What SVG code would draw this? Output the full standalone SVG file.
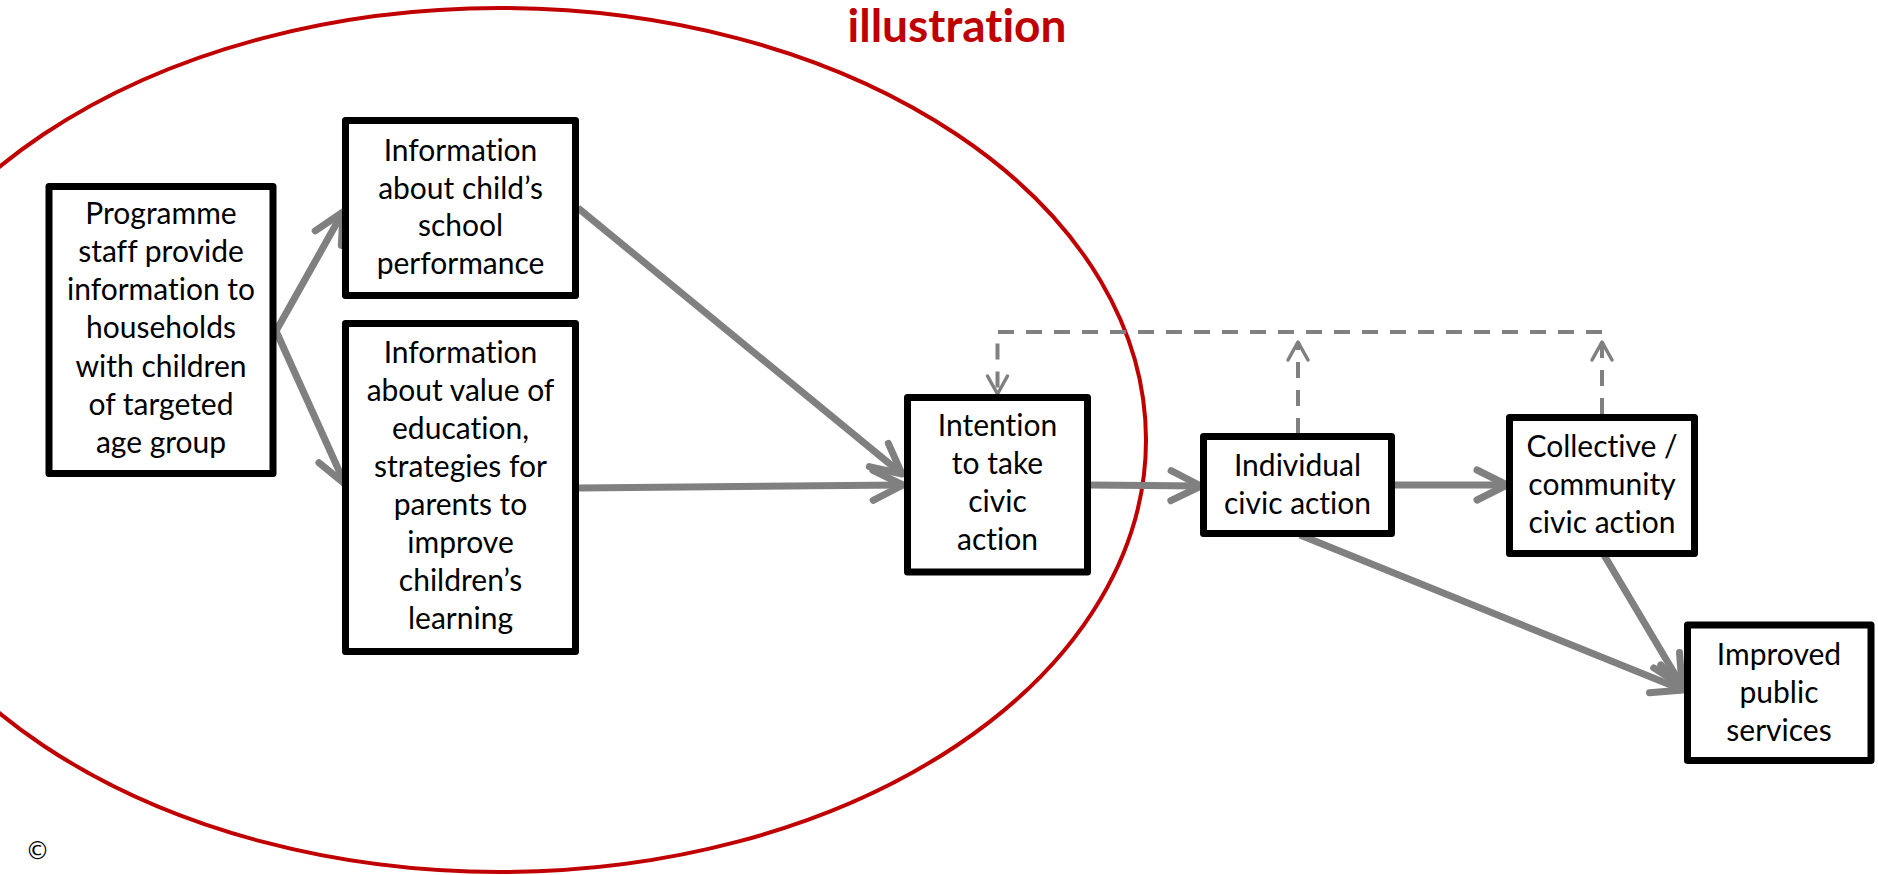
<svg xmlns="http://www.w3.org/2000/svg" width="1878" height="875" viewBox="0 0 1878 875">
<style>
.box{fill:#fff;stroke:#000;stroke-width:7;stroke-linejoin:round}
.t{font-family:Lato,"Liberation Sans",sans-serif;font-size:30px;fill:#000;text-anchor:middle;font-variant-ligatures:none}
.title{font-family:Lato,"Liberation Sans",sans-serif;font-size:46px;font-weight:bold;fill:#C00000;text-anchor:middle;font-variant-ligatures:none}
.c{fill:none;stroke:#808080;stroke-width:7;stroke-linecap:butt}
.d{fill:none;stroke:#808080;stroke-width:4;stroke-dasharray:16 12}
</style>
<defs>
<marker id="ah" markerUnits="userSpaceOnUse" orient="auto" markerWidth="60" markerHeight="60" refX="0" refY="0" viewBox="-40 -30 60 60" overflow="visible">
<path d="M -30 -15 L 0 0 L -30 15" fill="none" stroke="#808080" stroke-width="7" stroke-linecap="round" stroke-linejoin="round"/>
</marker>
<marker id="dh" markerUnits="userSpaceOnUse" orient="auto" markerWidth="40" markerHeight="40" refX="0" refY="0" viewBox="-30 -20 40 40" overflow="visible">
<path d="M -18 -10 L 0 0 L -18 10" fill="none" stroke="#808080" stroke-width="3.5" stroke-linecap="round" stroke-linejoin="round"/>
</marker>
</defs>
<rect width="1878" height="875" fill="#fff"/>
<ellipse id="scope" cx="500" cy="440" rx="646" ry="432" fill="none" stroke="#C00000" stroke-width="4"/>
<text class="title" x="957" y="42">illustration</text>
<g id="connectors">
<path class="c" d="M 276 331 L 343 212" marker-end="url(#ah)"/>
<path class="c" d="M 276 331 L 345 484" marker-end="url(#ah)"/>
<path class="c" d="M 578 208 L 902 474" marker-end="url(#ah)"/>
<path class="c" d="M 579 488 L 903 485" marker-end="url(#ah)"/>
<path class="c" d="M 1091 485 L 1201 486" marker-end="url(#ah)"/>
<path class="c" d="M 1395 485 L 1507 485" marker-end="url(#ah)"/>
<path class="c" d="M 1300 535 L 1683 690" marker-end="url(#ah)"/>
<path class="c" d="M 1604 555 L 1682 686" marker-end="url(#ah)"/>
<path class="d" d="M 1298 434 L 1298 342" marker-end="url(#dh)"/>
<path class="d" d="M 1602 414 L 1602 342" marker-end="url(#dh)"/>
<path class="d" d="M 1602 332 L 997.5 332 L 997.5 394" marker-end="url(#dh)"/>
</g>
<g id="n1">
<rect class="box" x="49" y="186.5" width="224" height="287"/>
<text class="t"><tspan x="161" y="224">Programme</tspan><tspan x="161" y="262">staff provide</tspan><tspan x="161" y="300">information to</tspan><tspan x="161" y="338">households</tspan><tspan x="161" y="377">with children</tspan><tspan x="161" y="415">of targeted</tspan><tspan x="161" y="453">age group</tspan></text>
</g>
<g id="n2">
<rect class="box" x="345.5" y="120.5" width="230" height="175"/>
<text class="t"><tspan x="460.5" y="161">Information</tspan><tspan x="460.5" y="199">about child’s</tspan><tspan x="460.5" y="236">school</tspan><tspan x="460.5" y="274">performance</tspan></text>
</g>
<g id="n3">
<rect class="box" x="345.5" y="323.5" width="230" height="328"/>
<text class="t"><tspan x="460.5" y="363">Information</tspan><tspan x="460.5" y="401">about value of</tspan><tspan x="460.5" y="439">education,</tspan><tspan x="460.5" y="477">strategies for</tspan><tspan x="460.5" y="515">parents to</tspan><tspan x="460.5" y="553">improve</tspan><tspan x="460.5" y="591">children’s</tspan><tspan x="460.5" y="629">learning</tspan></text>
</g>
<g id="n4">
<rect class="box" x="907.5" y="397.5" width="180" height="174.5"/>
<text class="t"><tspan x="997.5" y="436">Intention</tspan><tspan x="997.5" y="474">to take</tspan><tspan x="997.5" y="512">civic</tspan><tspan x="997.5" y="550">action</tspan></text>
</g>
<g id="n5">
<rect class="box" x="1203.5" y="436.5" width="188" height="97"/>
<text class="t"><tspan x="1297.5" y="476">Individual</tspan><tspan x="1297.5" y="514">civic action</tspan></text>
</g>
<g id="n6">
<rect class="box" x="1509.5" y="417.5" width="185" height="136"/>
<text class="t"><tspan x="1602" y="457">Collective /</tspan><tspan x="1602" y="495">community</tspan><tspan x="1602" y="533">civic action</tspan></text>
</g>
<g id="n7">
<rect class="box" x="1687.5" y="625" width="183.5" height="135.5"/>
<text class="t"><tspan x="1779" y="665">Improved</tspan><tspan x="1779" y="703">public</tspan><tspan x="1779" y="741">services</tspan></text>
</g>
<text x="37.5" y="859" font-family="'DejaVu Sans',sans-serif" font-size="24" text-anchor="middle" fill="#000">©</text>
</svg>
